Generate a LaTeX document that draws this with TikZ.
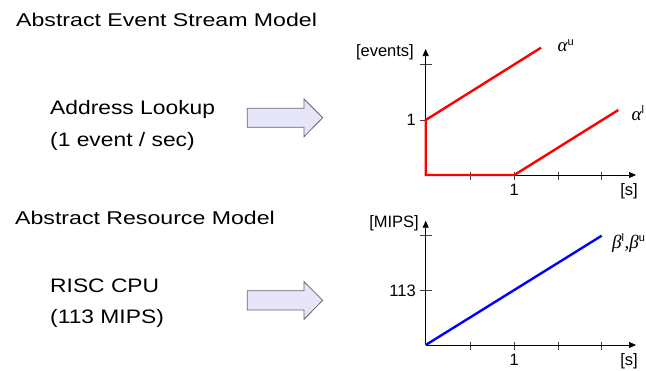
\documentclass[tikz,border=0pt]{standalone}
\usepackage{fontspec}
\setmainfont{Liberation Sans}
\newfontfamily\widefont[FakeStretch=1.25]{Liberation Sans}
\newfontfamily\bodyfont[FakeStretch=1.17]{Liberation Sans}
\newfontfamily\greekfont{Liberation Serif}
\usetikzlibrary{arrows.meta}
\begin{document}
\begin{tikzpicture}[x=1pt,y=-1pt,
  title/.style={anchor=west,inner sep=0pt,font=\widefont\fontsize{18.5}{20}\selectfont},
  body/.style={anchor=west,inner sep=0pt,font=\bodyfont\fontsize{19.5}{21}\selectfont},
  lbl/.style={inner sep=0pt,font=\fontsize{16.5}{18}\selectfont},
  glbl/.style={inner sep=0pt,font=\greekfont\itshape\fontsize{19}{20}\selectfont},
  axis/.style={line width=0.7pt,-{Triangle[length=7pt,width=6pt]}},
  tick/.style={line width=0.6pt,draw=black!75},
  fatarrow/.style={fill={rgb,255:red,230;green,230;blue,248},draw={rgb,255:red,100;green,100;blue,115},line width=0.8pt,line join=miter},
  curve/.style={line width=2.4pt,line join=miter}]
\useasboundingbox (0,0) rectangle (646,370);
% texts
\node[title] (t1) at (16,20) {Abstract Event Stream Model};
\node[body] (a1) at (50,109) {Address Lookup};
\node[body] (a2) at (50,141) {(1 event / sec)};
\node[title] (t2) at (15,218) {Abstract Resource Model};
\node[body] (r1) at (50,286) {RISC CPU};
\node[body] (r2) at (50,318) {(113 MIPS)};
% fat arrows
\draw[fatarrow] (247.3,108.3) -- (304,108.3) -- (304,99) -- (322.7,117.7) -- (304,136.7) -- (304,127.3) -- (247.3,127.3) -- cycle;
\draw[fatarrow] (247.3,290.7) -- (304,290.7) -- (304,281.7) -- (322.7,300.3) -- (304,319.3) -- (304,310) -- (247.3,310) -- cycle;
% top graph
\coordinate (o1) at (425.7,175);
\foreach \x in {470,514.3,558.3,601.7} \draw[tick] (\x,172) -- (\x,180);
\draw[tick] (420,64.3) -- (432,64.3);
\draw[tick] (420,120) -- (426,120);
\draw[axis] (o1) -- (636,175);
\draw[axis] (o1) -- (425.7,49);
\node[lbl,anchor=east] (ev) at (414,52.7) {[events]};
\node[lbl,anchor=east] (one1) at (416,120) {1};
\node[lbl] (onex1) at (514.3,190) {1};
\node[lbl] (s1) at (629,191.5) {[s]};
\draw[red,curve] (541,47.7) -- (425.7,120) -- (o1) -- (514.3,175) -- (618.3,110);
\node[glbl] (au) at (566,46) {α\textsuperscript{\normalfont\fontsize{11}{12}\selectfont u}};
\node[glbl] (al) at (638,113) {α\textsuperscript{\normalfont\fontsize{11}{12}\selectfont l}};
% bottom graph
\coordinate (o2) at (425.7,345);
\foreach \x in {470,514.3,558.3,601.7} \draw[tick] (\x,342) -- (\x,350);
\draw[tick] (420,235.7) -- (432,235.7);
\draw[tick] (420,290.7) -- (432,290.7);
\draw[axis] (o2) -- (636,345);
\draw[axis] (o2) -- (425.7,220.7);
\node[lbl,anchor=east] (mips) at (419,223) {[MIPS]};
\node[lbl,anchor=east] (n113) at (416,290.7) {113};
\node[lbl] (onex2) at (514.3,360) {1};
\node[lbl] (s2) at (629,361.5) {[s]};
\draw[blue,curve] (o2) -- (601.7,235.7);
\node[glbl,anchor=west] (beta) at (612,243) {β\textsuperscript{\normalfont\fontsize{11}{12}\selectfont l},β\textsuperscript{\normalfont\fontsize{11}{12}\selectfont u}};
\end{tikzpicture}
\end{document}
